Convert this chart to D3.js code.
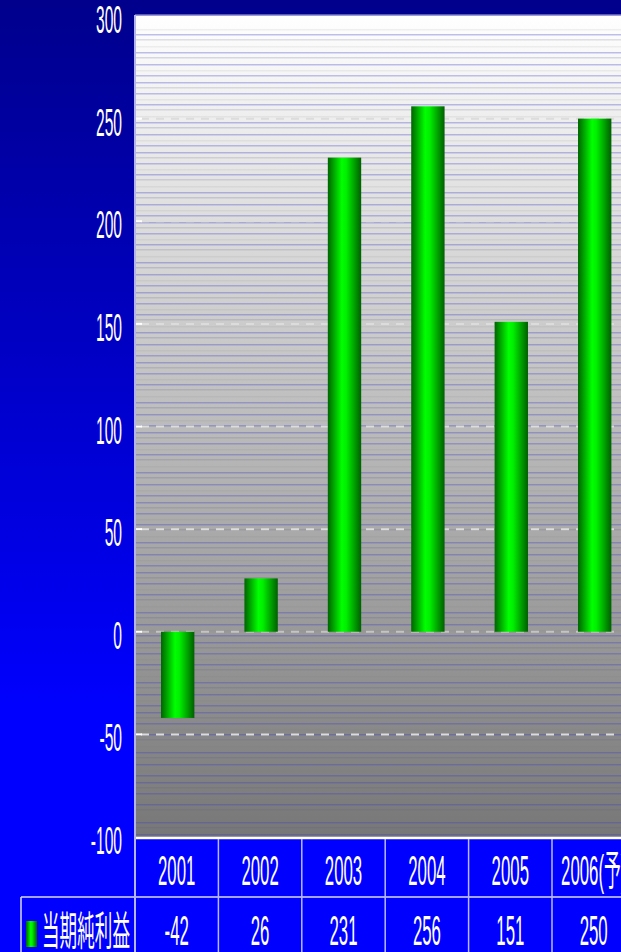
<!DOCTYPE html>
<html>
<head>
<meta charset="utf-8">
<script src="https://cdn.jsdelivr.net/npm/d3@7"></script>
<style>
  html, body { margin: 0; padding: 0; background: #0000ff; overflow: hidden; }
</style>
</head>
<body>
<div id="chart"></div>
<script>
// data
const years = ["2001", "2002", "2003", "2004", "2005", "2006(予)"]
const netIncome = [-42, 26, 231, 256, 151, 250]
const yTicks = [-100, -50, 0, 50, 100, 150, 200, 250, 300]
const gridTicks = [-50, 0, 50, 100, 150, 200, 250]
const seriesName = "当期純利益"

const width = 621
const height = 952
const plotLeft = 135
const plotTop = 16
const plotBottom = 837
const rowHeight = 60
const font = "'Liberation Sans', 'Noto Sans CJK JP', sans-serif"

const x = d3.scaleBand().domain(years).range([plotLeft, 635.4]).padding(0)
const y = d3.scaleLinear().domain([-100, 300]).range([plotBottom, plotTop])

const svg = d3.select("#chart").append("svg")
  .attr("width", width)
  .attr("height", height)
  .attr("viewBox", [0, 0, width, height])
  .style("display", "block")

const defs = svg.append("defs")

const bg = defs.append("linearGradient").attr("id", "bg")
  .attr("x1", 0).attr("y1", 0).attr("x2", 0).attr("y2", 1)
bg.append("stop").attr("offset", "0%").attr("stop-color", "#00008c")
bg.append("stop").attr("offset", "85%").attr("stop-color", "#0000ff")

const plotBg = defs.append("linearGradient").attr("id", "plotBg")
  .attr("x1", 0).attr("y1", 0).attr("x2", 0).attr("y2", 1)
plotBg.append("stop").attr("offset", "0%").attr("stop-color", "#ffffff")
plotBg.append("stop").attr("offset", "100%").attr("stop-color", "#777777")

const barGrad = defs.append("linearGradient").attr("id", "barGrad")
  .attr("x1", 0).attr("y1", 0).attr("x2", 1).attr("y2", 0)
barGrad.append("stop").attr("offset", "0%").attr("stop-color", "#006400")
barGrad.append("stop").attr("offset", "42%").attr("stop-color", "#00ff00")
barGrad.append("stop").attr("offset", "55%").attr("stop-color", "#00f000")
barGrad.append("stop").attr("offset", "100%").attr("stop-color", "#005f00")

// striped texture of the plot area
const texture = [
  { o: 0, c: "rgba(60,60,200,0.32)" },
  { o: 5, c: "rgba(90,90,120,0.18)" },
  { o: 12, c: "rgba(120,120,120,0.1)" },
  { o: 18, c: "rgba(60,60,200,0.32)" },
  { o: 23, c: "rgba(90,90,150,0.22)" },
  { o: 30, c: "rgba(60,60,200,0.32)" },
  { o: 36, c: "rgba(120,120,120,0.1)" },
  { o: 41, c: "rgba(60,60,200,0.3)" },
  { o: 48, c: "rgba(60,60,200,0.32)" },
  { o: 53, c: "rgba(90,90,120,0.18)" },
  { o: 59, c: "rgba(60,60,200,0.3)" },
  { o: 65, c: "rgba(120,120,120,0.1)" }
]
const pat = defs.append("pattern").attr("id", "stripes")
  .attr("patternUnits", "userSpaceOnUse")
  .attr("x", 0).attr("y", 34)
  .attr("width", 20).attr("height", 70)
pat.selectAll("rect").data(texture).join("rect")
  .attr("x", 0).attr("y", d => d.o)
  .attr("width", 20).attr("height", 1.5)
  .attr("fill", d => d.c)

// background
svg.append("rect").attr("width", width).attr("height", plotBottom).attr("fill", "url(#bg)")
svg.append("rect").attr("y", plotBottom).attr("width", width).attr("height", height - plotBottom).attr("fill", "#0000ff")

// plot area
svg.append("rect")
  .attr("x", plotLeft).attr("y", plotTop - 1)
  .attr("width", width - plotLeft).attr("height", plotBottom - plotTop + 1)
  .attr("fill", "url(#plotBg)")
svg.append("rect")
  .attr("x", plotLeft).attr("y", plotTop + 10)
  .attr("width", width - plotLeft).attr("height", plotBottom - plotTop - 10)
  .attr("fill", "url(#stripes)")
svg.append("line")
  .attr("x1", plotLeft).attr("x2", width)
  .attr("y1", plotTop - 1).attr("y2", plotTop - 1)
  .attr("stroke", "#7a7ac8").attr("stroke-width", 1.5)

// dashed grid
svg.append("g").selectAll("line").data(gridTicks).join("line")
  .attr("x1", plotLeft + 6).attr("x2", width)
  .attr("y1", d => y(d)).attr("y2", d => y(d))
  .attr("stroke", d => d === 0 ? "#c4c4c4" : "#dcdcdc")
  .attr("stroke-width", 2)
  .attr("stroke-dasharray", "8,7")

// bars
const barW = x.bandwidth() * 0.4
svg.append("g").selectAll("rect").data(netIncome).join("rect")
  .attr("x", (d, i) => x(years[i]) + (x.bandwidth() - barW) / 2 + 1)
  .attr("y", d => y(Math.max(0, d)))
  .attr("width", barW)
  .attr("height", d => Math.abs(y(d) - y(0)))
  .attr("fill", "url(#barGrad)")

// y ticks
svg.append("g").selectAll("line").data(yTicks.slice(1, -1)).join("line")
  .attr("x1", plotLeft).attr("x2", plotLeft + 7)
  .attr("y1", d => y(d)).attr("y2", d => y(d))
  .attr("stroke", "#ffffff").attr("stroke-width", 2)

// narrow text helper
const label = (sel, px, py, txt, size, sx, anchor) => {
  sel.append("text")
    .attr("transform", `translate(${px},${py}) scale(${sx},1)`)
    .attr("text-anchor", anchor)
    .attr("font-family", font)
    .attr("font-size", size)
    .attr("fill", "#ffffff")
    .text(txt)
}

const yAxis = svg.append("g")
yTicks.forEach(t => label(yAxis, 122, y(t) + 17, t, 39, 0.4, "end"))

// table
const table = svg.append("g")
table.append("line")
  .attr("x1", plotLeft).attr("x2", width)
  .attr("y1", plotBottom + 1).attr("y2", plotBottom + 1)
  .attr("stroke", "#ffffff").attr("stroke-width", 2.5)
table.append("line")
  .attr("x1", 21).attr("x2", width)
  .attr("y1", plotBottom + rowHeight).attr("y2", plotBottom + rowHeight)
  .attr("stroke", "#d8d8ff").attr("stroke-width", 1.5)
table.append("line")
  .attr("x1", 21).attr("x2", 21)
  .attr("y1", plotBottom + rowHeight).attr("y2", height)
  .attr("stroke", "#d8d8ff").attr("stroke-width", 1.5)
table.selectAll(".vline").data(years.slice(1)).join("line")
  .attr("class", "vline")
  .attr("x1", d => x(d)).attr("x2", d => x(d))
  .attr("y1", plotBottom + 2).attr("y2", height)
  .attr("stroke", "#b8b8ff").attr("stroke-width", 1.5)
table.append("line")
  .attr("x1", plotLeft).attr("x2", plotLeft)
  .attr("y1", plotTop - 1).attr("y2", height)
  .attr("stroke", "#b4b4ee").attr("stroke-width", 2)

years.forEach((yr, i) => {
  const cx = x(yr) + x.bandwidth() / 2
  label(table, cx, 885, yr, 42, 0.4, "middle")
  label(table, cx, 945, netIncome[i], 42, 0.4, "middle")
})

// legend
table.append("rect")
  .attr("x", 26).attr("y", 921).attr("width", 11).attr("height", 26)
  .attr("fill", "url(#barGrad)")
label(table, 42, 945, seriesName, 40, 0.44, "start")
</script>
</body>
</html>
